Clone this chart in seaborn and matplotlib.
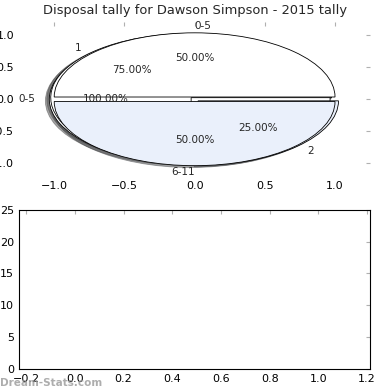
import matplotlib
matplotlib.use("Agg")
import matplotlib.pyplot as plt
import seaborn as sns

# ============================================================================
# DATA
# ============================================================================
title = "Disposal tally for Dawson Simpson - 2015 tally"

# pie drawn first: a single full slice
single_labels = ['0-5']
single_values = [1]

# kick tally pie
kick_labels = ['1', '2']
kick_values = [3, 1]

# main pie: disposal buckets
bucket_labels = ['0-5', '6-11']
bucket_values = [1, 1]
bucket_colors = ['white', '#eaf0fb']

bar_ylim = (0, 25)
bar_xlim = (-0.229, 1.212)

# ============================================================================
# STYLE
# ============================================================================
sns.set_style("white", {
    "axes.edgecolor": "black",
    "xtick.color": "#b0b0b0",
    "ytick.color": "#b0b0b0",
    "xtick.direction": "in",
    "ytick.direction": "in",
})
plt.rcParams['font.family'] = ['DejaVu Sans']
plt.rcParams['xtick.labelcolor'] = 'black'
plt.rcParams['ytick.labelcolor'] = 'black'
plt.rcParams['font.size'] = 7.5

fig = plt.figure(figsize=(3.9, 3.9), dpi=100)
ax1 = fig.add_axes([0.049, 0.548, 0.9, 0.395])
ax2 = fig.add_axes([0.049, 0.054, 0.9, 0.408])

wp = {'edgecolor': 'black', 'linewidth': 0.6}
pct = '%1.2f%%'
ex = 0.035

ax1.pie(single_values, labels=single_labels, autopct=pct, colors=['white'],
        explode=[ex] * len(single_values), shadow=True, wedgeprops=wp, frame=True)
ax1.pie(kick_values, labels=kick_labels, autopct=pct, colors=['white', '#eaf0fb'],
        explode=[ex] * len(kick_values), shadow=True, wedgeprops=wp, frame=True)
_, texts, _ = ax1.pie(bucket_values, labels=bucket_labels, autopct=pct,
                      colors=bucket_colors, explode=[ex] * len(bucket_values),
                      shadow=True, wedgeprops=wp, frame=True)
# top label hangs to the right, bottom label to the left
texts[0].set_ha('left')
texts[1].set_ha('right')

ax1.set_aspect('auto')
ax1.set_xlim(-1.25, 1.25)
ax1.set_ylim(-1.2, 1.2)
ax1.set_xticks([-1.0, -0.5, 0.0, 0.5, 1.0])
ax1.set_yticks([-1.0, -0.5, 0.0, 0.5, 1.0])
for s in ax1.spines.values():
    s.set_visible(False)
ax1.tick_params(top=True, right=True, length=3, labelsize=8)
ax1.set_title(title, fontsize=9.4, pad=6)

ax2.set_xlim(*bar_xlim)
ax2.set_ylim(*bar_ylim)
ax2.set_xticks([-0.2, 0.0, 0.2, 0.4, 0.6, 0.8, 1.0, 1.2])
ax2.set_yticks([0, 5, 10, 15, 20, 25])
ax2.tick_params(top=True, right=True, length=3, labelsize=8)
for s in ax2.spines.values():
    s.set_linewidth(0.8)

fig.text(0.0, 0.01, "Dream-Stats.com", color='#999999', fontsize=7.5,
         fontweight='bold', alpha=0.8)

fig.savefig("out.png", dpi=100)
